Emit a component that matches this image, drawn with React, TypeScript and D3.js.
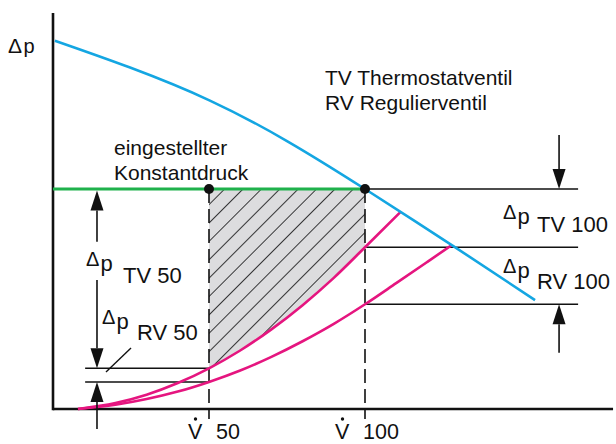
import React from 'react';
import * as d3 from 'd3';

// flow in % of nominal (V̇100 = 100), pressure difference in arbitrary units
const flowMarks = [50, 100];
const flowMarkLabels = ['50', '100'];
const setPressure = 100;

const pumpX = [0.6, 24.7, 50.3, 75, 100, 128.8, 154.5];
const pumpY = [167.4, 155.2, 140.2, 121.8, 100, 73.6, 49.5];

const tvX = [8, 20, 30, 40, 50, 60, 70, 80, 90, 100, 111.5];
const tvY = [0, 2.7, 6.5, 11.8, 18.5, 26.6, 36.2, 47.2, 59.6, 73.5, 89.7];

const rvX = [8, 20, 30, 40, 50, 60, 70, 80, 90, 100, 110, 120, 127.8];
const rvY = [0, 1.9, 4.5, 7.9, 12.3, 17.5, 23.7, 30.8, 38.7, 47.6, 57.2, 66.9, 74.5];

const levels50 = [18.5, 12.3];
const levels100 = [73.5, 47.6];

const W = 616;
const H = 444;
const FONT = '"Liberation Sans", Arial, sans-serif';
const BLUE = '#14a6e2';
const GREEN = '#1fb14c';
const PINK = '#e5157f';
const INK = '#111';

type P = [number, number];

export default function App() {
  const x = d3.scaleLinear().domain([0, 180]).range([53, 614.6]);
  const y = d3.scaleLinear().domain([0, 180]).range([409, 13]);

  const zip = (xs: number[], ys: number[]): P[] => xs.map((v, i) => [v, ys[i]]);
  const pump = zip(pumpX, pumpY);
  const tv = zip(tvX, tvY);
  const rv = zip(rvX, rvY);

  const line = d3
    .line<P>()
    .x((d) => x(d[0]))
    .y((d) => y(d[1]))
    .curve(d3.curveMonotoneX);
  const smooth = d3
    .line<P>()
    .x((d) => x(d[0]))
    .y((d) => y(d[1]))
    .curve(d3.curveNatural);

  const area = d3
    .area<P>()
    .x((d) => x(d[0]))
    .y0((d) => y(d[1]))
    .y1(() => y(setPressure))
    .curve(d3.curveMonotoneX);
  const hatchPts = tv.filter((d) => d[0] >= flowMarks[0] && d[0] <= flowMarks[1]);

  const arrow = (ax: number, tip: number, tail: number, key: string) => {
    const xt = x(ax);
    const yt = y(tip);
    const ya = y(tail);
    const dir = ya > yt ? 1 : -1;
    const hl = 20;
    const hw = 6.5;
    const base = yt + dir * hl;
    return (
      <g key={key}>
        <line x1={xt} x2={xt} y1={base} y2={ya} stroke={INK} strokeWidth={1.6} />
        <path d={`M${xt},${yt} L${xt - hw},${base} L${xt + hw},${base} Z`} fill={INK} />
      </g>
    );
  };

  // Δp label: Δ slightly raised, p, then subscript text
  const dp = (lx: number, subBase: number, sub: string, subX: number, gap: number, key: string) => (
    <g key={key} fontFamily={FONT} fill={INK}>
      <text x={lx} y={subBase - gap - 5} fontSize={20}>Δ</text>
      <text x={lx + 14.5} y={subBase - gap} fontSize={22}>p</text>
      <text x={subX} y={subBase} fontSize={22}>{sub}</text>
    </g>
  );

  return (
    <svg
      width={W}
      height={H}
      style={{ position: 'absolute', left: 0, top: 0, display: 'block', background: '#fff' }}
    >
      <defs>
        <pattern
          id="hatch"
          width={13}
          height={13}
          patternUnits="userSpaceOnUse"
          patternTransform="rotate(45)"
        >
          <rect width={13} height={13} fill="#dcdcde" />
          <line x1={6.5} y1={0} x2={6.5} y2={13} stroke="#222" strokeWidth={0.9} />
        </pattern>
      </defs>

      {/* hatched region */}
      <path d={area(hatchPts) || ''} fill="url(#hatch)" />

      {/* dashed verticals */}
      {flowMarks.map((f) => (
        <line
          key={'v' + f}
          x1={x(f)}
          x2={x(f)}
          y1={y(setPressure)}
          y2={y(0) + 10}
          stroke={INK}
          strokeWidth={1.6}
          strokeDasharray="14,6"
        />
      ))}

      {/* horizontal reference lines */}
      {levels50.map((l) => (
        <line key={'l50' + l} x1={x(10.3)} x2={x(flowMarks[0])} y1={y(l)} y2={y(l)} stroke={INK} strokeWidth={1.6} />
      ))}
      {[setPressure, ...levels100].map((l) => (
        <line key={'l100' + l} x1={x(flowMarks[1])} x2={x(168.3)} y1={y(l)} y2={y(l)} stroke={INK} strokeWidth={1.6} />
      ))}

      {/* axes */}
      <line x1={x(0)} x2={x(0)} y1={y(0) + 1.2} y2={y(180)} stroke={INK} strokeWidth={2.6} />
      <line x1={x(0)} x2={x(179.5)} y1={y(0)} y2={y(0)} stroke={INK} strokeWidth={2.6} />

      {/* curves */}
      <path d={line(tv) || ''} fill="none" stroke={PINK} strokeWidth={2.6} />
      <path d={line(rv) || ''} fill="none" stroke={PINK} strokeWidth={2.6} />
      <line x1={x(0)} x2={x(flowMarks[1])} y1={y(setPressure)} y2={y(setPressure)} stroke={GREEN} strokeWidth={2.8} />
      <path d={smooth(pump) || ''} fill="none" stroke={BLUE} strokeWidth={2.6} />

      {/* dots */}
      {flowMarks.map((f) => (
        <circle key={'c' + f} cx={x(f)} cy={y(setPressure)} r={5} fill={INK} />
      ))}

      {/* arrows */}
      {arrow(14.1, 99.3, 76, 'a1')}
      {arrow(14.1, levels50[0], 58.6, 'a2')}
      {arrow(14.1, levels50[1], -9.1, 'a3')}
      {arrow(162.2, setPressure, 124.5, 'a4')}
      {arrow(162.2, levels100[1], 25.6, 'a5')}

      {/* leader */}
      <line x1={131} y1={348} x2={106} y2={372} stroke={INK} strokeWidth={1.4} />

      {/* labels */}
      <g fontFamily={FONT} fill={INK}>
        <text x={8} y={53} fontSize={21}>Δ</text>
        <text x={23.5} y={53} fontSize={20}>p</text>
      </g>
      {dp(86, 283, 'TV 50', 123, 12, 'd1')}
      {dp(102, 340, 'RV 50', 137, 11, 'd2')}
      {dp(503, 232, 'TV 100', 537, 8, 'd3')}
      {dp(503, 289, 'RV 100', 537, 11, 'd4')}

      <g fontFamily={FONT} fontSize={21} fill={INK}>
        <text x={325} y={85}>TV Thermostatventil</text>
        <text x={325} y={110}>RV Regulierventil</text>
        <text x={114} y={155}>eingestellter</text>
        <text x={114} y={180}>Konstantdruck</text>
      </g>

      {/* flow labels */}
      {flowMarks.map((f, i) => {
        const lab = flowMarkLabels[i];
        const numX = x(f) + 7 - (lab.length - 2) * 9;
        return (
          <g key={'fl' + f} fontFamily={FONT} fontSize={21.5} fill={INK}>
            <text x={numX - 28} y={439}>V</text>
            <circle cx={numX - 20.5} cy={419} r={1.7} fill={INK} />
            <text x={numX} y={439}>{lab}</text>
          </g>
        );
      })}
    </svg>
  );
}
